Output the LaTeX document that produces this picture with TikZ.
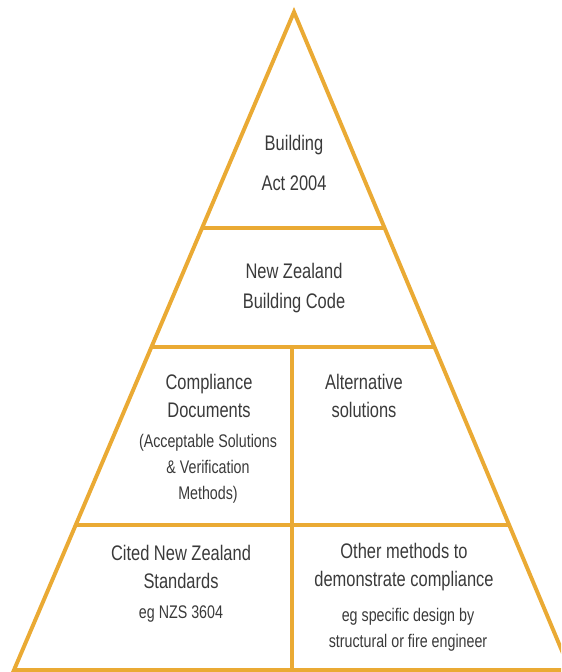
\documentclass[tikz,border=0pt]{standalone}
\usepackage{fontspec}
\setmainfont{Liberation Sans}[FakeStretch=0.78]
\usetikzlibrary{calc}
\definecolor{amber}{RGB}{234, 170, 52}
\definecolor{ink}{RGB}{58, 58, 58}

\tikzset{
    bar/.style={amber, line width=2.8pt, line join=miter},
    big/.style={text=ink, align=center, inner sep=0pt, font=\fontsize{15}{20}\selectfont},
    small/.style={text=ink, align=center, inner sep=0pt, font=\fontsize{13}{18.5}\selectfont},
}

\begin{document}
\begin{tikzpicture}[x=0.025cm, y=-0.025cm]
    % Frame to fix the page size:
    \useasboundingbox (0, 0) rectangle (561, 672);
    \begin{scope}
        \clip (0, 0) rectangle (561, 672);
        % Pyramid outline
        \coordinate (apex) at (294, 12);
        \coordinate (bl)   at ( 14, 670);
        \coordinate (br)   at (570, 670);
        \draw[bar] (apex) -- (bl) -- (br) -- cycle;
        % Tiers
        \draw[bar] ($(apex)!0.3283!(bl)$) -- ($(apex)!0.3283!(br)$);
        \draw[bar] ($(apex)!0.5091!(bl)$) -- ($(apex)!0.5091!(br)$);
        \draw[bar] ($(apex)!0.7796!(bl)$) -- ($(apex)!0.7796!(br)$);
        % Split of the two lower tiers
        \draw[bar] (292, 347) -- (292, 670);
    \end{scope}
    % Labels
    \node[big, font=\fontsize{15}{28}\selectfont] (act)  at (294, 163) {Building\\Act 2004};
    \node[big, font=\fontsize{15}{21.3}\selectfont] (code) at (294, 288) {New Zealand\\Building Code};
    \node[big]   (docs)  at (209, 396) {Compliance\\Documents};
    \node[small] (accep) at (208, 469) {(Acceptable Solutions\\\& Verification\\Methods)};
    \node[big]   (alt)   at (364, 396) {Alternative\\solutions};
    \node[big]   (cited) at (181, 567) {Cited New Zealand\\Standards};
    \node[small] (nzs)   at (181, 614) {eg NZS 3604};
    \node[big]   (other) at (404, 567) {Other methods to\\demonstrate compliance};
    \node[small] (eng)   at (408, 630) {eg specific design by\\structural or fire engineer};
\end{tikzpicture}
\end{document}
